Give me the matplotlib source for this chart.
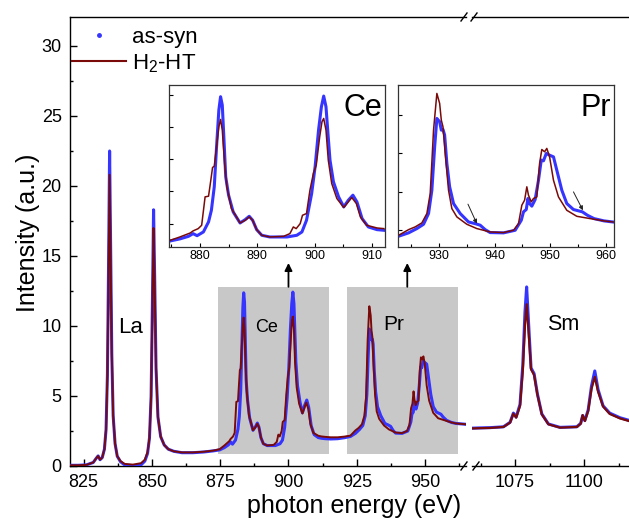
import numpy as np
import matplotlib
matplotlib.use('Agg')
import matplotlib.pyplot as plt
from matplotlib.patches import Rectangle
from matplotlib.lines import Line2D
from matplotlib.ticker import MultipleLocator, NullFormatter

plt.rcParams['font.family'] = ['Liberation Sans', 'DejaVu Sans']
plt.rcParams['mathtext.fontset'] = 'custom'
plt.rcParams['mathtext.rm'] = 'Liberation Sans'
plt.rcParams['mathtext.default'] = 'regular'

BLUE = '#3535ff'
RED = '#7a0a0a'
GRAY = '#c8c8c8'

# ---- La M-edges (eV, a.u.) ----
E_la = [820, 823, 826, 828.5, 829.6, 830.3, 831.0, 831.8, 832.6, 833.2, 833.7, 834.1,
        834.5, 834.9, 835.3, 835.8, 836.5, 837.3, 838.5, 840, 843, 846, 847.4, 848.4,
        849.1, 849.7, 850.2, 850.6, 851.0, 851.5, 852.2, 853.2, 854.5, 856, 858, 861,
        865, 869, 872.5]
blue_la = [0.05, 0.05, 0.08, 0.25, 0.55, 0.72, 0.45, 0.6, 1.2, 2.6, 6.5, 14.0,
           22.5, 15.0, 8.0, 3.6, 1.6, 0.7, 0.3, 0.08, 0.02, 0.08, 0.35, 0.9,
           2.0, 5.0, 12.0, 18.3, 13.5, 7.0, 3.5, 2.1, 1.5, 1.2, 1.05, 0.95,
           0.95, 1.0, 1.08]
red_la = [0.05, 0.05, 0.08, 0.25, 0.55, 0.72, 0.45, 0.6, 1.2, 2.6, 6.5, 13.5,
          20.8, 14.5, 8.0, 3.6, 1.6, 0.7, 0.35, 0.15, 0.1, 0.2, 0.45, 1.0,
          2.0, 5.0, 11.5, 17.0, 13.0, 7.0, 3.5, 2.1, 1.5, 1.2, 1.05, 0.97,
          0.97, 1.02, 1.1]

# ---- Ce ----
E_ce_b = [874.8, 876.5, 878.0, 878.8, 879.5, 880.6, 881.5, 882.0, 882.5, 882.9, 883.3,
          883.6, 883.9, 884.2, 884.5, 885.0, 885.8, 887.0, 887.9, 888.6, 889.2, 889.9,
          890.8, 892.2, 895.2, 896.9, 897.8, 898.6, 899.5, 900.1, 900.7, 901.2, 901.6,
          902.0, 902.3, 902.7, 903.3, 904.2, 905.1, 905.9, 906.7, 907.4, 908.3, 909.4,
          910.9, 912.1]
ce_b = [1.15, 1.31, 1.51, 1.72, 1.56, 1.85, 2.63, 3.54, 5.36, 8.47, 11.33,
        12.37, 11.72, 8.99, 6.14, 4.71, 3.41, 2.55, 2.81, 3.07, 2.76, 2.03,
        1.59, 1.46, 1.46, 1.59, 1.85, 2.76, 4.84, 6.92, 9.77, 11.59, 12.42,
        11.59, 9.77, 7.44, 5.75, 4.58, 3.8, 4.32, 4.71, 4.19, 2.89, 2.24,
        2.03, 1.98]
E_ce_r = [874.8, 876.5, 878.3, 878.8, 879.7, 880.3, 880.9, 881.5, 881.9, 882.2, 882.5,
          882.9, 883.3, 883.6, 883.9, 884.3, 884.7, 885.5, 887.0, 887.9, 888.6, 889.2,
          889.9, 890.8, 892.2, 894.6, 895.7, 896.3, 896.8, 897.5, 897.9, 898.6, 899.2,
          899.8, 900.3, 900.9, 901.3, 901.6, 902.0, 902.4, 903.0, 903.9, 905.1, 905.9,
          906.5, 907.3, 908.0, 909.1, 910.9, 912.1]
ce_r = [1.2, 1.46, 1.77, 1.93, 2.11, 2.37, 4.58, 4.63, 5.88, 6.86, 6.97,
        8.47, 10.03, 10.6, 9.77, 7.18, 5.36, 3.67, 2.55, 2.76, 3.02, 2.76,
        2.03, 1.59, 1.46, 1.51, 1.72, 2.24, 2.11, 2.5, 3.15, 3.28, 5.1,
        6.4, 7.05, 9.25, 10.42, 10.68, 9.77, 7.44, 5.62, 4.45, 3.75, 4.19,
        4.53, 4.06, 3.02, 2.37, 2.16, 2.11]

# ---- between Ce and Pr ----
E_gap = [913.5, 915.5, 918, 920.5]
gap_b = [1.95, 1.93, 1.95, 2.02]
gap_r = [2.08, 2.05, 2.05, 2.1]

# ---- Pr ----
E_pr_b = [922.7, 924.5, 926.0, 927.2, 928.1, 928.7, 929.2, 929.6, 930.1, 930.4, 930.7,
          931.0, 931.4, 931.9, 932.6, 933.8, 935.3, 936.5, 937.4, 938.3, 939.2, 941.6,
          943.7, 944.8, 945.2, 945.7, 946.0, 946.3, 946.7, 947.3, 947.9, 948.4, 948.8,
          949.3, 949.9, 950.6, 951.2, 952.1, 953.0, 954.2, 955.8, 956.7, 957.9, 959.7,
          961.3]
pr_b = [2.11, 2.33, 2.61, 2.89, 3.59, 5.11, 7.93, 9.78, 9.57, 9.02, 9.07,
        8.7, 6.85, 5.33, 4.24, 3.59, 3.04, 2.93, 2.83, 2.54, 2.35, 2.33,
        2.5, 3.15, 3.7, 3.85, 4.57, 4.24, 4.07, 4.5, 5.76, 7.07, 7.02,
        7.5, 7.39, 7.28, 6.41, 5.11, 4.24, 3.85, 3.7, 3.48, 3.26, 3.11,
        3.04]
E_pr_r = [922.7, 924.5, 925.7, 926.9, 927.8, 928.4, 929.0, 929.6, 930.1, 930.4, 930.7,
          931.1, 931.7, 932.3, 933.2, 935.0, 936.8, 939.2, 941.6, 943.4, 944.3, 944.9,
          945.4, 945.8, 946.1, 946.6, 947.0, 947.6, 948.1, 948.5, 949.0, 949.4, 949.9,
          950.6, 951.5, 953.0, 954.8, 957.2, 959.7, 961.3]
pr_r = [2.17, 2.54, 2.72, 2.98, 3.59, 4.89, 9.02, 11.41, 10.76, 9.67, 9.24,
        7.5, 5.11, 3.91, 3.37, 2.89, 2.61, 2.39, 2.35, 2.5, 2.93, 4.13,
        4.46, 5.33, 4.78, 4.35, 4.57, 4.67, 6.85, 7.76, 7.61, 7.83, 7.28,
        5.76, 4.67, 3.8, 3.41, 3.26, 3.11, 3.04]

E_tail = [963.5, 965.5]
tail_b = [3.0, 2.97]
tail_r = [3.0, 2.97]

# ---- Sm ----
E_sm = [1059, 1062, 1066, 1070.8, 1073.2, 1074.4, 1075.4, 1076.8, 1077.8, 1078.6,
        1079.2, 1080.1, 1080.8, 1081.9, 1083.1, 1084.7, 1087.1, 1091.3, 1097.4, 1098.8,
        1099.5, 1100.3, 1101.5, 1102.7, 1103.9, 1105.1, 1106.9, 1109.3, 1113, 1116.5]
sm_b = [2.7, 2.72, 2.74, 2.8, 3.12, 3.78, 3.5, 4.4, 7.2, 11.0,
        12.79, 9.5, 7.0, 6.6, 5.15, 3.72, 3.0, 2.76, 2.8, 3.05,
        3.6, 3.25, 4.0, 5.7, 6.79, 5.45, 4.3, 3.78, 3.45, 3.25]
sm_r = [2.68, 2.7, 2.72, 2.79, 3.1, 3.74, 3.45, 4.29, 6.8, 10.0,
        11.55, 9.0, 6.9, 6.5, 5.1, 3.69, 2.98, 2.74, 2.79, 3.02,
        3.64, 3.21, 3.93, 5.5, 6.36, 5.3, 4.25, 3.72, 3.4, 3.2]

E_blue = np.concatenate([E_la, E_ce_b, E_gap, E_pr_b, E_tail])
I_blue = np.concatenate([blue_la, ce_b, gap_b, pr_b, tail_b])
E_red = np.concatenate([E_la, E_ce_r, E_gap, E_pr_r, E_tail])
I_red = np.concatenate([red_la, ce_r, gap_r, pr_r, tail_r])

W, H = 629, 519


def fig_rect(x0, y0, x1, y1):
    # pixel box (top-left origin) -> figure fraction
    return [x0 / W, 1 - y1 / H, (x1 - x0) / W, (y1 - y0) / H]


fig = plt.figure(figsize=(W / 100, H / 100), dpi=100)
ax1 = fig.add_axes(fig_rect(70, 17, 466, 466))
ax2 = fig.add_axes(fig_rect(472, 17, 629, 466))

for ax in (ax1, ax2):
    ax.set_ylim(0, 32.07)
    ax.tick_params(direction='in', which='both', labelsize=13, width=1, pad=6)
    ax.tick_params(which='major', length=5)
    ax.tick_params(which='minor', length=2.5)
    for s in ax.spines.values():
        s.set_linewidth(1.0)

ax1.set_xlim(820, 965)
ax1.xaxis.set_major_locator(MultipleLocator(25))
ax1.xaxis.set_minor_locator(MultipleLocator(12.5))
ax1.yaxis.set_major_locator(MultipleLocator(5))
ax1.yaxis.set_minor_locator(MultipleLocator(2.5))
ax1.spines['right'].set_visible(False)

ax2.set_xlim(1059.4, 1116.3)
ax2.xaxis.set_major_locator(MultipleLocator(25))
ax2.xaxis.set_minor_locator(MultipleLocator(12.5))
ax2.spines['left'].set_visible(False)
ax2.spines['right'].set_visible(False)
ax2.set_yticks([])

# grey boxes marking the inset regions
for x0, x1 in [(874.3, 914.9), (921.4, 962.0)]:
    ax1.add_patch(Rectangle((x0, 0.88), x1 - x0, 12.8 - 0.88, facecolor=GRAY,
                            edgecolor='none', zorder=1))

ax1.plot(E_blue, I_blue, color=BLUE, lw=2.2, zorder=3)
ax1.plot(E_red, I_red, color=RED, lw=1.4, zorder=4)
ax2.plot(E_sm, sm_b, color=BLUE, lw=2.2, zorder=3)
ax2.plot(E_sm, sm_r, color=RED, lw=1.6, zorder=4)

ax1.text(842.1, 9.86, 'La', fontsize=16, ha='center', va='center', zorder=5)
ax1.text(892.0, 9.86, 'Ce', fontsize=13, ha='center', va='center', zorder=5)
ax1.text(938.7, 10.14, 'Pr', fontsize=15, ha='center', va='center', zorder=5)
ax2.text(1092.4, 10.14, 'Sm', fontsize=15.5, ha='center', va='center', zorder=5)

for xa in (900.0, 943.5):
    ax1.annotate('', xy=(xa, 14.5), xytext=(xa, 12.8),
                 arrowprops=dict(arrowstyle='-|>', color='k', lw=1.3,
                                 mutation_scale=11, shrinkA=0, shrinkB=0),
                 zorder=6, annotation_clip=False)

# axis break marks
for xc, yc in [(464, 17), (474, 17), (464, 466), (476, 466)]:
    fig.add_artist(Line2D([(xc - 3) / W, (xc + 3) / W],
                          [1 - (yc + 4) / H, 1 - (yc - 4) / H],
                          color='k', lw=1.0))

handles = [Line2D([], [], color=BLUE, marker='.', ls='none', ms=5, label='as-syn'),
           Line2D([], [], color=RED, lw=1.5, label='H$_2$-HT')]
ax1.legend(handles=handles, loc='upper left', bbox_to_anchor=(-0.005, 0.988),
           frameon=False, fontsize=16, handlelength=2.4, handletextpad=0.3,
           labelspacing=0.2, borderpad=0.2, borderaxespad=0)

fig.text(28 / W, 1 - 233 / H, 'Intensity (a.u.)', rotation=90, fontsize=18,
         ha='center', va='center')
fig.text(354 / W, 1 - 513 / H, 'photon energy (eV)', fontsize=18,
         ha='center', va='baseline')

# ---- insets ----
insets = [
    (fig_rect(169, 85, 385, 247), (874.6, 912.3), (0.68, 13.28), 'Ce', 'ce'),
    (fig_rect(398, 85, 614, 247), (922.6, 961.5), (1.41, 11.96), 'Pr', 'pr'),
]
for rect, xl, yl, name, key in insets:
    axi = fig.add_axes(rect, zorder=10)
    axi.set_facecolor('white')
    if key == 'ce':
        axi.plot(E_ce_b, ce_b, color=BLUE, lw=2.2)
        axi.plot(E_ce_r, ce_r, color=RED, lw=1.1)
    else:
        axi.plot(E_pr_b, pr_b, color=BLUE, lw=2.2)
        axi.plot(E_pr_r, pr_r, color=RED, lw=1.1)
        for (xs, ys, xe, ye) in [(935.2, 4.2, 936.8, 2.93), (954.2, 5.0, 955.9, 3.8)]:
            axi.annotate('', xy=(xe, ye), xytext=(xs, ys),
                         arrowprops=dict(arrowstyle='-|>', color='#222222', lw=0.7,
                                         mutation_scale=6, shrinkA=0, shrinkB=0))
    axi.set_xlim(*xl)
    axi.set_ylim(*yl)
    axi.xaxis.set_major_locator(MultipleLocator(10))
    axi.xaxis.set_minor_locator(MultipleLocator(5))
    axi.yaxis.set_major_locator(MultipleLocator(2.5))
    axi.yaxis.set_major_formatter(NullFormatter())
    axi.tick_params(direction='in', which='both', labelsize=9, pad=2, width=0.8)
    axi.tick_params(which='major', length=3)
    axi.tick_params(which='minor', length=2)
    for s in axi.spines.values():
        s.set_linewidth(0.9)
        s.set_color('#333333')
    axi.text(0.985, 0.95, name, transform=axi.transAxes, fontsize=22,
             ha='right', va='top')

fig.savefig('out.png', dpi=100)
